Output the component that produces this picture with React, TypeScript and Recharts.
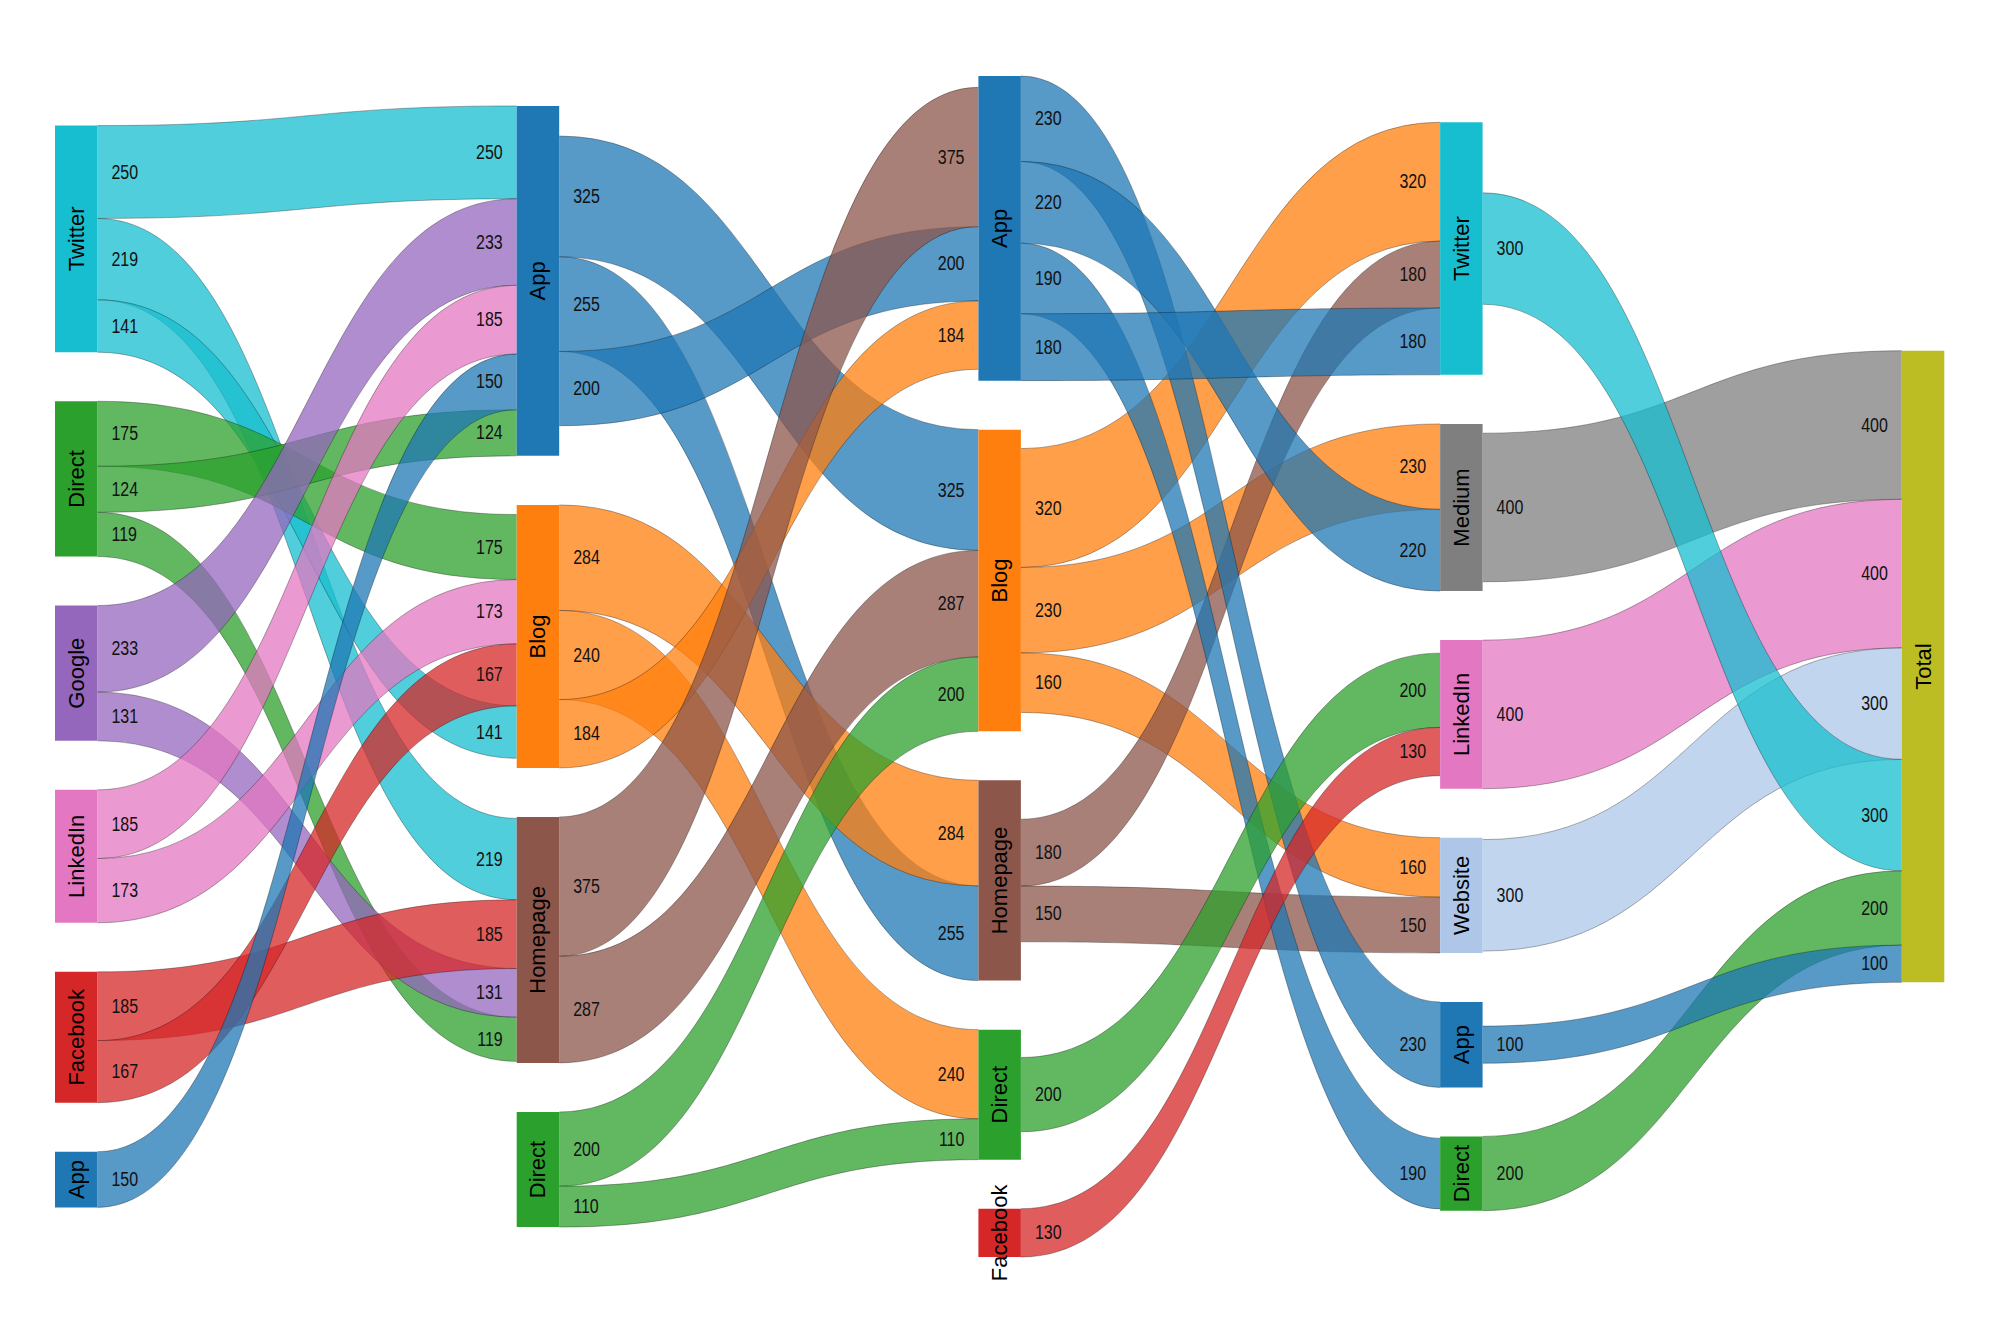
import React from 'react';
import { ComposedChart, XAxis, YAxis, Area, ReferenceArea, Scatter } from 'recharts';

// ---- data ----
const column0 = ['Twitter', 'Direct', 'Google', 'LinkedIn', 'Facebook', 'App'];
const column1 = ['App', 'Blog', 'Homepage', 'Direct'];
const column2 = ['App', 'Blog', 'Homepage', 'Direct', 'Facebook'];
const column3 = ['Twitter', 'Medium', 'LinkedIn', 'Website', 'App', 'Direct'];
const column4 = ['Total'];

type Flow = [string, string, number];

const flows01: Flow[] = [
  ['Twitter', 'App', 250], ['Twitter', 'Homepage', 219], ['Twitter', 'Blog', 141],
  ['Direct', 'Blog', 175], ['Direct', 'App', 124], ['Direct', 'Homepage', 119],
  ['Google', 'App', 233], ['Google', 'Homepage', 131],
  ['LinkedIn', 'App', 185], ['LinkedIn', 'Blog', 173],
  ['Facebook', 'Homepage', 185], ['Facebook', 'Blog', 167],
  ['App', 'App', 150],
];
const flows12: Flow[] = [
  ['App', 'Blog', 325], ['App', 'Homepage', 255], ['App', 'App', 200],
  ['Blog', 'Homepage', 284], ['Blog', 'Direct', 240], ['Blog', 'App', 184],
  ['Homepage', 'App', 375], ['Homepage', 'Blog', 287],
  ['Direct', 'Blog', 200], ['Direct', 'Direct', 110],
];
const flows23: Flow[] = [
  ['Blog', 'Twitter', 320], ['Blog', 'Medium', 230], ['Blog', 'Website', 160],
  ['Homepage', 'Twitter', 180], ['Homepage', 'Website', 150],
  ['App', 'App', 230], ['App', 'Medium', 220], ['App', 'Direct', 190], ['App', 'Twitter', 180],
  ['Direct', 'LinkedIn', 200],
  ['Facebook', 'LinkedIn', 130],
];
const flows34: Flow[] = [
  ['Medium', 'Total', 400], ['LinkedIn', 'Total', 400], ['Website', 'Total', 300],
  ['Twitter', 'Total', 300], ['Direct', 'Total', 200], ['App', 'Total', 100],
];

// ---- styles ----
const nodeColors: Record<string, string> = {
  Twitter: '#17becf',
  Direct: '#2ca02c',
  Google: '#9467bd',
  LinkedIn: '#e377c2',
  Facebook: '#d62728',
  App: '#1f77b4',
  Blog: '#ff7f0e',
  Homepage: '#8c564b',
  Medium: '#7f7f7f',
  Website: '#aec7e8',
  Total: '#bcbd22',
};
const FONT = '"Liberation Sans", Arial, Helvetica, sans-serif';
const NODE_W = 0.092; // node width in column units
const PAD = 132; // gap between nodes in value units
const LABEL_GAP = 14; // px
const VALUE_SQUEEZE = 0.82; // narrow digits

// ---- layout (value units) ----
const columns = [column0, column1, column2, column3, column4];
const flowGroups = [flows01, flows12, flows23, flows34];

type NodeInfo = { col: number; name: string; inSum: number; outSum: number; value: number; y0: number; y1: number };
type LinkInfo = { col: number; source: string; target: string; value: number; sy0: number; sy1: number; ty0: number; ty1: number };

function buildLayout() {
  const nodes: Record<string, NodeInfo> = {};
  columns.forEach((names, col) =>
    names.forEach((name) => {
      nodes[`${col}:${name}`] = { col, name, inSum: 0, outSum: 0, value: 0, y0: 0, y1: 0 };
    })
  );
  const links: LinkInfo[] = [];
  flowGroups.forEach((flows, col) =>
    flows.forEach(([s, t, v]) => {
      nodes[`${col}:${s}`].outSum += v;
      nodes[`${col + 1}:${t}`].inSum += v;
      links.push({ col, source: s, target: t, value: v, sy0: 0, sy1: 0, ty0: 0, ty1: 0 });
    })
  );
  Object.values(nodes).forEach((n) => (n.value = Math.max(n.inSum, n.outSum)));
  const extents = columns.map(
    (names, col) => names.reduce((a, name) => a + nodes[`${col}:${name}`].value, 0) + (names.length - 1) * PAD
  );
  const maxExtent = Math.max(...extents);
  columns.forEach((names, col) => {
    let y = (maxExtent - extents[col]) / 2;
    names.forEach((name) => {
      const n = nodes[`${col}:${name}`];
      n.y0 = y;
      n.y1 = y + n.value;
      y += n.value + PAD;
    });
  });
  Object.values(nodes).forEach((n) => {
    const outs = links
      .filter((l) => l.col === n.col && l.source === n.name)
      .sort((a, b) => b.value - a.value);
    let y = n.y0 + (n.value - n.outSum) / 2;
    outs.forEach((l) => {
      l.sy0 = y;
      l.sy1 = y + l.value;
      y += l.value;
    });
    const ins = links
      .filter((l) => l.col + 1 === n.col && l.target === n.name)
      .sort((a, b) => b.value - a.value);
    y = n.y0 + (n.value - n.inSum) / 2;
    ins.forEach((l) => {
      l.ty0 = y;
      l.ty1 = y + l.value;
      y += l.value;
    });
  });
  return { nodes: Object.values(nodes), links, maxExtent };
}

const layout = buildLayout();

const valueLabels = layout.links.flatMap((l) => [
  { x: l.col + NODE_W, y: (l.sy0 + l.sy1) / 2, text: String(l.value), anchor: 'start' },
  { x: l.col + 1, y: (l.ty0 + l.ty1) / 2, text: String(l.value), anchor: 'end' },
]);
const nodeLabels = layout.nodes.map((n) => ({ x: n.col + NODE_W / 2, y: (n.y0 + n.y1) / 2, text: n.name }));

const ValueText = (props: any) => {
  const { cx, cy, payload } = props;
  if (cx == null || cy == null) return null;
  const start = payload.anchor === 'start';
  const tx = start ? cx + LABEL_GAP : cx - LABEL_GAP;
  return (
    <text
      x={0}
      y={0}
      transform={`translate(${tx}, ${cy}) scale(${VALUE_SQUEEZE}, 1)`}
      textAnchor={start ? 'start' : 'end'}
      dominantBaseline="central"
      fontFamily={FONT}
      fontSize={19.5}
      fill="#111"
    >
      {payload.text}
    </text>
  );
};

const NodeText = (props: any) => {
  const { cx, cy, payload } = props;
  if (cx == null || cy == null) return null;
  return (
    <text
      x={cx}
      y={cy}
      transform={`rotate(-90, ${cx}, ${cy})`}
      textAnchor="middle"
      dominantBaseline="central"
      fontFamily={FONT}
      fontSize={22}
      fill="#000"
    >
      {payload.text}
    </text>
  );
};

export default function App() {
  return (
    <div style={{ position: 'absolute', left: 0, top: 0, width: 2000, height: 1333, background: '#fff' }}>
      <ComposedChart width={2000} height={1333} margin={{ top: 76, right: 55.7, bottom: 76, left: 55 }}>
        <XAxis type="number" dataKey="x" domain={[0, 4 + NODE_W]} hide />
        <YAxis type="number" domain={[0, layout.maxExtent]} reversed hide />
        {layout.links.map((l, i) => (
          <Area
            key={`link-${i}`}
            data={[
              { x: l.col + NODE_W, y: [l.sy0, l.sy1] },
              { x: l.col + 1, y: [l.ty0, l.ty1] },
            ]}
            dataKey="y"
            type="bumpX"
            fill={nodeColors[l.source]}
            fillOpacity={0.75}
            stroke="#000"
            strokeOpacity={0.3}
            strokeWidth={1}
            dot={false}
            activeDot={false}
            isAnimationActive={false}
          />
        ))}
        {layout.nodes.map((n, i) => (
          <ReferenceArea
            key={`node-${i}`}
            x1={n.col}
            x2={n.col + NODE_W}
            y1={n.y0}
            y2={n.y1}
            fill={nodeColors[n.name]}
            fillOpacity={1}
            stroke="none"
            ifOverflow="visible"
          />
        ))}
        <Scatter data={valueLabels} dataKey="y" shape={ValueText} isAnimationActive={false} />
        <Scatter data={nodeLabels} dataKey="y" shape={NodeText} isAnimationActive={false} />
      </ComposedChart>
    </div>
  );
}
